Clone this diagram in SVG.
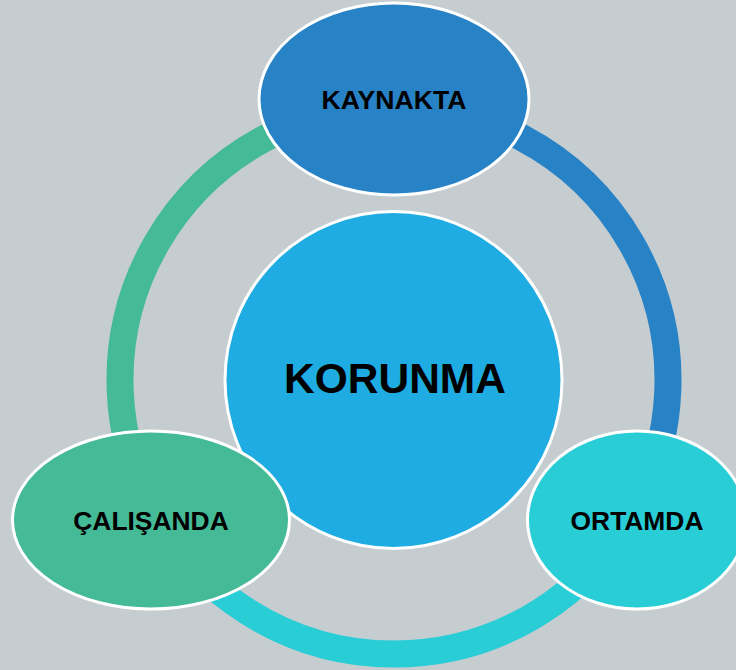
<svg xmlns="http://www.w3.org/2000/svg" width="736" height="670" viewBox="0 0 736 670">
  <style>
    .ring { fill: none; stroke-width: 27; }
    .node { stroke: #FFFFFF; stroke-width: 3; }
    .label { font-family: "Liberation Sans", Arial, sans-serif; font-weight: bold; fill: #000000; text-anchor: middle; }
  </style>
  <rect width="736" height="670" fill="#C5CDD0"/>

  <!-- outer ring, split into three coloured arcs between the satellite nodes -->
  <g id="connectors">
    <path class="ring" stroke="#2882C6" d="M394,106 A274,274 0 0 1 631.29,517"/>
    <path class="ring" stroke="#28CDD6" d="M631.29,517 A274,274 0 0 1 156.71,517"/>
    <path class="ring" stroke="#44BA96" d="M156.71,517 A274,274 0 0 1 394,106"/>
  </g>

  <g id="korunma">
    <circle class="node" cx="393.5" cy="380" r="168.5" fill="#1EACE2"/>
    <text class="label" x="395" y="392.5" font-size="42.5">KORUNMA</text>
  </g>

  <g id="kaynakta">
    <ellipse class="node" cx="394" cy="99" rx="135" ry="96" fill="#2882C6"/>
    <text class="label" x="394" y="108.5" font-size="26.6">KAYNAKTA</text>
  </g>

  <g id="calisanda">
    <ellipse class="node" cx="151" cy="520" rx="138.5" ry="89" fill="#44BA96"/>
    <text class="label" x="151" y="529.5" font-size="26.4">ÇALIŞANDA</text>
  </g>

  <g id="ortamda">
    <ellipse class="node" cx="637" cy="520" rx="109.5" ry="89" fill="#28CDD6"/>
    <text class="label" x="637" y="529.5" font-size="26.4">ORTAMDA</text>
  </g>
</svg>
